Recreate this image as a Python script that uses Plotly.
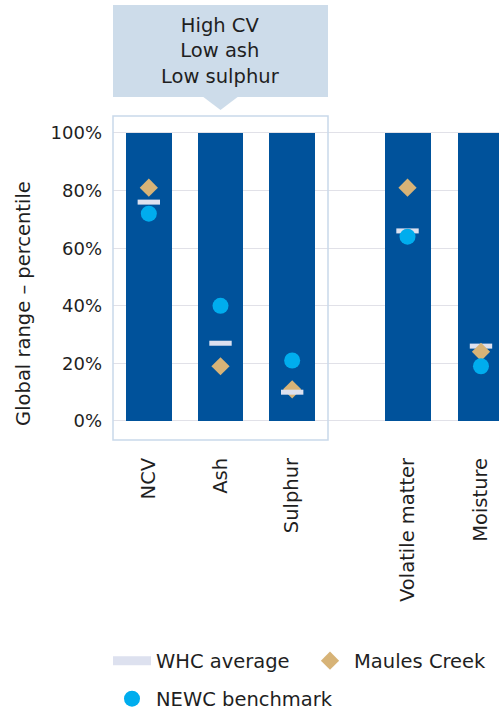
import plotly.graph_objects as go

# Coal quality attributes, split into the two groups shown side by side
left_cats = ["NCV", "Ash", "Sulphur"]
right_cats = ["Volatile matter", "Moisture"]

# Global range bars (0-100th percentile)
range_left = [100, 100, 100]
range_right = [100, 100]

# Percentile positions
whc_left = [76, 27, 10]
whc_right = [66, 26]
maules_left = [81, 19, 11]
maules_right = [81, 24]
newc_left = [72, 40, 21]
newc_right = [64, 19]

y_ticks = [0, 20, 40, 60, 80, 100]
y_tick_text = ["0%", "20%", "40%", "60%", "80%", "100%"]

BAR = "#00529b"
WHC = "#dde1ef"
MAULES = "#d7b377"
NEWC = "#00adee"
BOX = "#c9d9ea"
HEADER = "#cddcea"
GRID = "#e1e1e8"
TEXT = "#1f1f1f"
FONT = "DejaVu Sans"

W, H = 499, 713

fig = go.Figure()


def whc_trace(x, y, xa, ya):
    return go.Scatter(x=x, y=y, xaxis=xa, yaxis=ya, mode="markers", showlegend=False,
                      marker=dict(symbol="line-ew", size=16, line=dict(width=5, color=WHC)))


def maules_trace(x, y, xa, ya, show):
    return go.Scatter(x=x, y=y, xaxis=xa, yaxis=ya, mode="markers", name="Maules Creek",
                      showlegend=show, legend="legend2",
                      marker=dict(symbol="diamond", size=14, color=MAULES))


def newc_trace(x, y, xa, ya, show):
    return go.Scatter(x=x, y=y, xaxis=xa, yaxis=ya, mode="markers", name="NEWC benchmark",
                      showlegend=show, legend="legend3",
                      marker=dict(symbol="circle", size=16, color=NEWC))


# Left group
fig.add_trace(go.Bar(x=left_cats, y=range_left, xaxis="x", yaxis="y", width=0.64,
                     marker=dict(color=BAR, line=dict(width=0)), showlegend=False))
fig.add_trace(maules_trace(left_cats, maules_left, "x", "y", True))
fig.add_trace(whc_trace(left_cats, whc_left, "x", "y"))
fig.add_trace(newc_trace(left_cats, newc_left, "x", "y", True))

# Right group
fig.add_trace(go.Bar(x=right_cats, y=range_right, xaxis="x2", yaxis="y2", width=0.626,
                     marker=dict(color=BAR, line=dict(width=0)), showlegend=False))
fig.add_trace(whc_trace(right_cats, whc_right, "x2", "y2"))
fig.add_trace(maules_trace(right_cats, maules_right, "x2", "y2", False))
fig.add_trace(newc_trace(right_cats, newc_right, "x2", "y2", False))

# Legend entry for the WHC average dash
fig.add_trace(go.Scatter(x=[None], y=[None], mode="lines", name="WHC average",
                         line=dict(color=WHC, width=9), legend="legend"))

tick_font = dict(family=FONT, size=18, color=TEXT)
big_font = dict(family=FONT, size=19.5, color=TEXT)
legend_common = dict(orientation="h", font=big_font, bgcolor="rgba(0,0,0,0)",
                     borderwidth=0, itemwidth=38, xanchor="left", yanchor="middle",
                     xref="container", yref="container")

fig.update_layout(
    width=W, height=H,
    margin=dict(l=113, r=0, t=116, b=273, pad=0, autoexpand=False),
    paper_bgcolor="white", plot_bgcolor="white",
    font=tick_font,
    bargap=0,
    xaxis=dict(domain=[0, 0.557], type="category", categoryorder="array",
               categoryarray=left_cats, range=[-0.5, 2.5], tickangle=-90,
               ticks="", showline=False, showgrid=False, zeroline=False,
               tickfont=big_font, ticklabelstandoff=13, anchor="y"),
    xaxis2=dict(domain=[0.557, 1], type="category", categoryorder="array",
                categoryarray=right_cats, range=[-1.082, 1.245], tickangle=-90,
                ticks="", showline=False, showgrid=False, zeroline=False,
                tickfont=big_font, ticklabelstandoff=13, anchor="y2"),
    yaxis=dict(range=[-6.6, 105.9], tickvals=y_ticks, ticktext=y_tick_text,
               showgrid=True, gridcolor=GRID, gridwidth=1, zeroline=False,
               showline=False, ticks="", tickfont=tick_font, ticklabelstandoff=10,
               anchor="x"),
    yaxis2=dict(matches="y", tickvals=y_ticks, showticklabels=False, showgrid=True,
                gridcolor=GRID, gridwidth=1, zeroline=False, showline=False,
                ticks="", anchor="x2"),
    legend=dict(x=108 / W, y=(H - 661) / H, **legend_common),
    legend2=dict(x=306 / W, y=(H - 661) / H, **legend_common),
    legend3=dict(x=108 / W, y=(H - 699) / H, **legend_common),
    shapes=[
        # Frame around the highlighted attributes
        dict(type="rect", xref="x domain", yref="y domain", x0=0, x1=1, y0=0, y1=1,
             line=dict(color=BOX, width=1.5), fillcolor="rgba(0,0,0,0)", layer="above"),
        # Callout header
        dict(type="rect", xref="x domain", yref="paper", x0=0, x1=1,
             y0=1.0586, y1=1.3426, line=dict(width=0), fillcolor=HEADER),
        dict(type="path", xref="paper", yref="paper",
             path="M 0.2333,1.0596 L 0.3237,1.0596 L 0.2785,1.0185 Z",
             line=dict(width=0), fillcolor=HEADER),
    ],
    annotations=[
        dict(text="High CV<br>Low ash<br>Low sulphur", xref="x domain", yref="paper",
             x=0.5, y=1.2015, xanchor="center", yanchor="middle", showarrow=False,
             font=big_font),
        dict(text="Global range – percentile", xref="paper", yref="paper",
             x=(24 - 113) / 386, y=0.42, textangle=-90, xanchor="center",
             yanchor="middle", showarrow=False, font=big_font),
    ],
)

fig.write_html("out.html")
